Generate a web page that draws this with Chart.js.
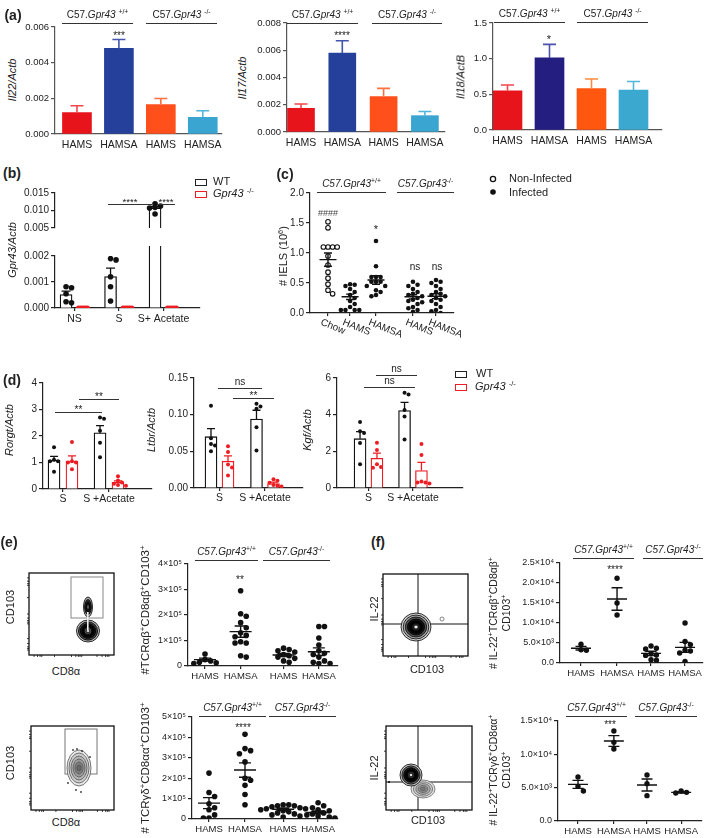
<!DOCTYPE html>
<html>
<head>
<meta charset="utf-8">
<title>Gpr43 IEL figure</title>
<script src="https://cdn.jsdelivr.net/npm/chart.js@4.4.1/dist/chart.umd.min.js"></script>
<style>
  html, body { margin: 0; padding: 0; background: #fff; }
  body { position: relative; width: 709px; height: 838px; overflow: hidden; font-family: "Liberation Sans", Arial, sans-serif; color: #222; }
  .t { position: absolute; white-space: nowrap; line-height: 1.2; }
  .hl { position: absolute; height: 0; border-top: 1.2px solid #333; }
  .sq { position: absolute; width: 10px; height: 5px; border: 1.6px solid #222; }
  sup { font-size: 68%; line-height: 0; vertical-align: 0; position: relative; top: -0.55em; }
</style>
</head>
<body>
<script>
// ---------- data ----------

// (a) colon qPCR, bars = mean, error = SEM
const aCats = ['HAMS', 'HAMSA', 'HAMS', 'HAMSA'];
const il22Mean = [0.0012, 0.0048, 0.00165, 0.00094];
const il22Sem = [0.00038, 0.0005, 0.00034, 0.00036];
const il17Mean = [0.00174, 0.0058, 0.0026, 0.0012];
const il17Sem = [0.00032, 0.0009, 0.0006, 0.0003];
const il18Mean = [0.55, 1.01, 0.58, 0.56];
const il18Sem = [0.08, 0.19, 0.135, 0.12];

// (b) Gpr43 expression
const bCats = ['NS', 'S', 'S+ Acetate'];
const bWtMean = [0.00052, 0.00121, 0.0107];
const bWtSem = [0.00013, 0.00032, 0.0005];
const bWtDots = [
  [0.00082, 0.00078, 0.00055, 0.00024, 0.0002],
  [0.0019, 0.00185, 0.0012, 0.00082, 0.00027],
  [0.0119, 0.0113, 0.0109, 0.0107, 0.009]
];
const bKoDots = [[0, 0, 0, 0, 0], [0, 0, 0, 0, 0], [0, 0, 0, 0, 0]];

// (c) IEL numbers
const cCats = ['Chow', 'HAMS', 'HAMSA', 'HAMS', 'HAMSA'];
const cInfected = [false, true, true, true, true];
const cDots = [
  [1.52, 1.42, 1.1, 1.1, 1.1, 1.1, 0.95, 0.8, 0.68, 0.58, 0.48, 0.38, 0.32],
  [0.48, 0.47, 0.45, 0.4, 0.35, 0.3, 0.25, 0.2, 0.15, 0.1, 0.05, 0.05, 0.05, 0.05],
  [1.2, 0.78, 0.6, 0.6, 0.6, 0.52, 0.52, 0.52, 0.45, 0.45, 0.38, 0.35, 0.3, 0.28],
  [0.52, 0.47, 0.45, 0.4, 0.35, 0.32, 0.3, 0.28, 0.25, 0.22, 0.2, 0.18, 0.15, 0.1, 0.08, 0.05, 0.02],
  [0.55, 0.52, 0.5, 0.45, 0.4, 0.35, 0.32, 0.3, 0.28, 0.25, 0.22, 0.2, 0.15, 0.1, 0.05, 0.03, 0.0]
];
const cMean = [0.89, 0.27, 0.55, 0.27, 0.28];
const cSem = [0.11, 0.045, 0.07, 0.035, 0.04];

// (d) sorted ILC3 qPCR
const dCats = ['S', 'S +Acetate'];
const rorgtWtMean = [1.08, 2.12], rorgtWtSem = [0.15, 0.27];
const rorgtWtDots = [[1.58, 1.1, 1.05, 1.05, 0.65], [2.7, 2.65, 2.2, 1.75, 1.2]];
const rorgtKoMean = [1.05, 0.25], rorgtKoSem = [0.2, 0.06];
const rorgtKoDots = [[1.77, 1.05, 1.0, 1.0, 0.75], [0.48, 0.32, 0.25, 0.2, 0.15, 0.12]];
const ltbrWtMean = [0.07, 0.094], ltbrWtSem = [0.011, 0.012];
const ltbrWtDots = [[0.112, 0.068, 0.06, 0.058, 0.05], [0.115, 0.111, 0.108, 0.083, 0.051]];
const ltbrKoMean = [0.0366, 0.006], ltbrKoSem = [0.0072, 0.002];
const ltbrKoDots = [[0.057, 0.049, 0.032, 0.028, 0.017], [0.012, 0.01, 0.007, 0.004, 0.003, 0.002]];
const kgfWtMean = [2.69, 4.22], kgfWtSem = [0.38, 0.45];
const kgfWtDots = [[3.6, 3.1, 3.0, 2.45, 1.3], [5.2, 5.1, 4.25, 3.9, 2.65]];
const kgfKoMean = [1.62, 0.95], kgfKoSem = [0.28, 0.45];
const kgfKoDots = [[2.47, 2.07, 1.3, 1.15, 1.1], [2.4, 1.8, 0.35, 0.3, 0.3, 0.25]];

// (e) IEL subsets
const eCats = ['HAMS', 'HAMSA', 'HAMS', 'HAMSA'];
const abDots = [
  [47000, 25000, 20000, 15000, 13000, 10000],
  [295000, 205000, 195000, 170000, 150000, 130000, 120000, 115000, 95000, 90000, 90000, 40000, 35000],
  [70000, 65000, 60000, 55000, 45000, 40000, 35000, 30000, 20000, 15000],
  [155000, 155000, 110000, 82000, 60000, 50000, 45000, 35000, 20000, 15000, 10000, 10000]
];
const abMean = [25000, 135000, 43000, 56000];
const abSem = [6000, 22000, 6000, 15000];
const gdDots = [
  [225000, 130000, 110000, 75000, 55000, 45000, 20000, 5000, 5000],
  [415000, 345000, 335000, 320000, 280000, 200000, 190000, 165000, 120000, 70000],
  [70000, 70000, 65000, 65000, 60000, 55000, 50000, 50000, 45000, 40000, 35000, 30000, 25000, 20000, 15000, 10000],
  [80000, 65000, 55000, 45000, 40000, 30000, 25000, 20000, 15000, 10000, 5000]
];
const gdMean = [78000, 240000, 48000, 32000];
const gdSem = [27000, 35000, 6000, 7000];

// (f) IL-22+ IEL subsets
const fCats = ['HAMS', 'HAMSA', 'HAMS', 'HAMSA'];
const il22abDots = [[4700, 3300, 3200], [21200, 15000, 12000], [4250, 3700, 3500, 2300, 2000, 1900, 800, 700], [10000, 5400, 4600, 3200, 3000, 2500, 400]];
const il22abMean = [3700, 16000, 2400, 3900];
const il22abSem = [450, 2800, 550, 1250];
const il22gdDots = [[6600, 5200, 4500], [13500, 11800, 10800], [6900, 5600, 3800], [4500, 4300, 4200]];
const il22gdMean = [5500, 12000, 5400, 4300];
const il22gdSem = [600, 800, 900, 100];

// ---------- helpers ----------
const RED = '#ee1d23';
Chart.defaults.font.family = '"Liberation Sans", Arial, sans-serif';
Chart.defaults.font.size = 10;
Chart.defaults.color = '#222';

// mean/SEM lines and bar error whiskers, drawn through the chart scales
Chart.register({
  id: 'summary',
  afterDatasetsDraw(chart) {
    const items = chart.canvas._items;
    if (!items) return;
    const { ctx, chartArea: a } = chart, x = chart.scales.x, y = chart.scales.y;
    ctx.save();
    ctx.beginPath();
    ctx.rect(a.left - 4, a.top - 4, a.right - a.left + 8, a.bottom - a.top + 8);
    ctx.clip();
    items.forEach(it => {
      const px = x.getPixelForValue(it.x), pm = y.getPixelForValue(it.mean);
      const hi = y.getPixelForValue(it.mean + it.sem), lo = y.getPixelForValue(it.mean - it.sem);
      ctx.strokeStyle = it.color;
      ctx.lineWidth = it.lw || 1.3;
      ctx.beginPath();
      ctx.moveTo(px, it.mode === 'up' ? pm : lo); ctx.lineTo(px, hi);
      ctx.moveTo(px - it.cap / 2, hi); ctx.lineTo(px + it.cap / 2, hi);
      if (it.mode !== 'up') {
        ctx.moveTo(px - it.cap / 2, lo); ctx.lineTo(px + it.cap / 2, lo);
        ctx.moveTo(px - it.w / 2, pm); ctx.lineTo(px + it.w / 2, pm);
      }
      ctx.stroke();
    });
    ctx.restore();
  }
});

// slanted category labels (clockwise, as in panel c)
Chart.register({
  id: 'slant',
  afterDraw(chart) {
    const s = chart.canvas._slant;
    if (!s) return;
    const { ctx } = chart, x = chart.scales.x;
    ctx.save();
    ctx.fillStyle = '#222';
    ctx.font = '10px "Liberation Sans", Arial, sans-serif';
    ctx.textBaseline = 'middle';
    ctx.textAlign = 'left';
    s.cats.forEach((c, i) => {
      ctx.save();
      ctx.translate(x.getPixelForValue(s.slots[i]) - 7, x.top + 9);
      ctx.rotate(22 * Math.PI / 180);
      ctx.fillText(c, 0, 0);
      ctx.restore();
    });
    ctx.restore();
  }
});

// L: chart-area box in page px, x0/u map category units to px
function mk(L, datasets, items) {
  const yW = L.yW ?? 34, xH = L.xH ?? 18, pT = L.pT ?? 8, pR = L.pR ?? 5, pB = L.pB ?? 0;
  const w = Math.round(L.r - L.l + yW + pR), h = Math.round(L.b - L.t + pT + (L.noX ? pB : xH));
  const cv = document.createElement('canvas');
  cv.width = w; cv.height = h;
  cv.style.cssText = `position:absolute;left:${L.l - yW}px;top:${L.t - pT}px;width:${w}px;height:${h}px`;
  document.body.appendChild(cv);
  cv._items = items;
  cv._slant = L.slant ? { cats: L.cats, slots: L.slots } : null;
  const axisCol = L.axisCol || '#222';
  return new Chart(cv, {
    type: 'scatter',
    data: { datasets },
    options: {
      responsive: false,
      animation: false,
      events: [],
      layout: { padding: { top: pT, right: pR, left: 0, bottom: L.noX ? pB : 0 }, autoPadding: false },
      plugins: { legend: { display: false }, tooltip: { enabled: false } },
      scales: {
        x: {
          type: 'linear', display: !L.noX, bounds: 'data', offset: false,
          min: (L.l - L.x0) / L.u, max: (L.r - L.x0) / L.u,
          afterBuildTicks: s => { s.ticks = L.slots.map(v => ({ value: v })); },
          afterFit: s => { s.height = xH; },
          grid: { display: true, offset: false, drawOnChartArea: false, drawTicks: !!L.xTicks, tickLength: 3, color: axisCol, lineWidth: 1.2 },
          border: { color: axisCol, width: 1.2 },
          ticks: { display: !L.slant, autoSkip: false, maxRotation: 0, padding: L.xPad ?? 2, callback: (v, i) => L.cats[i], font: { size: L.xFont || 10 } }
        },
        y: {
          type: 'linear', bounds: 'data', min: L.ymin, max: L.ymax, offset: false,
          afterFit: s => { s.width = yW; },
          grid: { display: true, offset: false, drawOnChartArea: false, tickLength: 4, color: axisCol, lineWidth: 1.2 },
          border: { color: axisCol, width: 1.2 },
          ticks: { stepSize: L.step, padding: 2, callback: L.fmt, font: { size: L.yFont || 10 } }
        }
      }
    }
  });
}

function tolFor(L, px) { return px * (L.ymax - L.ymin) / (L.b - L.t); }

// simple beeswarm: spread dots sideways when they would overlap
function swarm(vals, cx, tolY, dx) {
  const out = [];
  vals.slice().sort((a, b) => b - a).forEach(v => {
    const near = out.filter(p => Math.abs(p.y - v) < tolY);
    let k = 0, off = 0;
    while (true) {
      off = k === 0 ? 0 : (k % 2 ? 1 : -1) * Math.ceil(k / 2) * dx;
      if (!near.some(p => Math.abs(p.x - (cx + off)) < dx * 0.8)) break;
      k++;
    }
    out.push({ x: cx + off, y: v });
  });
  return out;
}

function dotSet(pts, color, r, open) {
  return {
    type: 'scatter', data: pts, pointRadius: r, pointHoverRadius: r,
    pointBackgroundColor: open ? '#fff' : color, pointBorderColor: color,
    pointBorderWidth: open ? 1.1 : 0
  };
}

function barSet(vals, xs, fill, border, bw, bwidth, clip) {
  const ds = {
    type: 'bar', data: vals.map((v, i) => ({ x: xs[i], y: v })),
    backgroundColor: fill, borderColor: border, borderWidth: bwidth, barThickness: bw, grouped: false
  };
  if (clip) ds.clip = clip;
  return ds;
}

function barChart(L, mean, sem, fill, err) {
  const ds = [barSet(mean, L.slots, fill, fill, L.bw, 0)];
  const items = mean.map((m, i) => ({ x: L.slots[i], mean: m, sem: sem[i], color: err[i], mode: 'up', cap: 13, lw: 1.6 }));
  mk(L, ds, items);
}

function pairChart(L, wM, wS, wD, kM, kS, kD) {
  const off = L.off, dx = 4 / L.u, tol = tolFor(L, 3.8), r = 2;
  const sets = [];
  wD.forEach((g, i) => sets.push(dotSet(swarm(g, L.slots[i] - off, tol, dx), '#111', r)));
  kD.forEach((g, i) => sets.push(dotSet(swarm(g, L.slots[i] + off, tol, dx), RED, r)));
  sets.push(barSet(wM, L.slots.map(s => s - off), '#fff', '#111', L.bw, 1.3));
  sets.push(barSet(kM, L.slots.map(s => s + off), '#fff', RED, L.bw, 1.3));
  const items = wM.map((m, i) => ({ x: L.slots[i] - off, mean: m, sem: wS[i], color: '#111', mode: 'up', cap: 8 }))
    .concat(kM.map((m, i) => ({ x: L.slots[i] + off, mean: m, sem: kS[i], color: RED, mode: 'up', cap: 8 })));
  mk(L, sets, items);
}

function dotChart(L, groups, mean, sem, open) {
  const dx = L.dot * 2 / L.u, tol = tolFor(L, L.dot * 1.9);
  const sets = groups.map((g, i) => dotSet(swarm(g, L.slots[i], tol, dx), '#111', L.dot, open && open[i]));
  const items = mean.map((m, i) => ({ x: L.slots[i], mean: m, sem: sem[i], color: '#111', cap: L.cap, w: L.mw, lw: 1.4 }));
  mk(L, sets, items);
}

// ---------- overlay text ----------
function T(x, y, html, st = {}) {
  const d = document.createElement('div');
  d.className = 't';
  d.innerHTML = html;
  d.style.left = x + 'px';
  d.style.top = y + 'px';
  d.style.fontSize = (st.size || 10) + 'px';
  if (st.bold) d.style.fontWeight = 'bold';
  if (st.it) d.style.fontStyle = 'italic';
  if (st.color) d.style.color = st.color;
  if (st.center) d.style.textAlign = 'center';
  d.style.transform = `translate(${st.ax ?? -50}%, -50%)` + (st.rot ? ` rotate(${st.rot}deg)` : '');
  document.body.appendChild(d);
}
// asterisks sit high in the em box, so their box is pushed down a little
function star(x, y, txt, size) { T(x, y + 2.5, txt, { size: size || 10 }); }
function H(x1, x2, y) {
  const d = document.createElement('div');
  d.className = 'hl';
  d.style.left = x1 + 'px'; d.style.top = y + 'px'; d.style.width = (x2 - x1) + 'px';
  document.body.appendChild(d);
}
function sig(x1, x2, y, txt, size) {
  H(x1, x2, y);
  if (txt.includes('*')) star((x1 + x2) / 2, y - 5, txt, size);
  else T((x1 + x2) / 2, y - 6, txt, { size: size || 10 });
}
function SQ(x, y, col) {
  const d = document.createElement('div');
  d.className = 'sq';
  d.style.left = x + 'px'; d.style.top = y + 'px'; d.style.borderColor = col;
  document.body.appendChild(d);
}
const WT = 'C57.<i>Gpr43</i> <sup>+/+</sup>', KO = 'C57.<i>Gpr43</i> <sup>-/-</sup>';
const WTi = '<i>C57.Gpr43</i><sup>+/+</sup>', KOi = '<i>C57.Gpr43</i><sup>-/-</sup>';
function grp(x1, x2, y, html, size) { H(x1, x2, y); T((x1 + x2) / 2, y - 8, html, { size: size || 10 }); }

// ---------- (a) ----------
const LA1 = { l: 55, t: 27, r: 222, b: 134, x0: 77, u: 42, slots: [0, 1, 2, 3], cats: aCats, bw: 29,
  ymin: 0, ymax: 0.006, step: 0.002, fmt: v => v.toFixed(3), axisCol: '#555', xPad: 5, xFont: 10.5, yFont: 9.5 };
const LA2 = { ...LA1, l: 287, t: 23, r: 445, b: 132, x0: 301, u: 41.3, bw: 27, ymax: 0.008 };
const LA3 = { ...LA1, l: 493, t: 23, r: 662, b: 130, x0: 507.5, u: 42, bw: 29, ymax: 1.5, step: 0.5, fmt: v => v.toFixed(1) };
barChart(LA1, il22Mean, il22Sem, ['#e8141b', '#24409a', '#ff4f1a', '#3aa5d1'], ['#f0474c', '#4155ad', '#ff7040', '#52b6dc']);
barChart(LA2, il17Mean, il17Sem, ['#e8141b', '#24409a', '#ff4f1a', '#3aa5d1'], ['#f0474c', '#4155ad', '#ff7040', '#52b6dc']);
barChart(LA3, il18Mean, il18Sem, ['#e8141b', '#231e80', '#ff5610', '#3aa8cf'], ['#f0474c', '#4a52b0', '#ff8a40', '#52b6dc']);

T(13, 15, '(a)', { size: 14, bold: true });
grp(62, 133, 23, WT); grp(146, 217, 23, KO);
grp(287, 358, 23, WT); grp(372, 442, 23, KO);
grp(494, 565, 22, WT); grp(577, 648, 22, KO);
star(119, 33, '***'); star(342, 33, '****'); star(549, 37, '*', 11);
T(13, 80, 'Il22/Actb', { size: 11, it: true, rot: -90 });
T(243, 78, 'Il17/Actb', { size: 11, it: true, rot: -90 });
T(461, 77, 'Il18/ActB', { size: 11, it: true, rot: -90 });

// ---------- (b) broken axis: two stacked charts ----------
const LBlo = { l: 55, t: 256, r: 200, b: 308, x0: 74.5, u: 44.5, slots: [0, 1, 2], cats: bCats,
  ymin: 0, ymax: 0.002, step: 0.001, fmt: v => v.toFixed(3), xTicks: true, pT: 10, xPad: 2, xFont: 10.5, off: 0.19 };
const LBhi = { ...LBlo, t: 193, b: 246, ymin: 0.005, ymax: 0.015, step: 0.005, noX: true, pB: 6 };
function bSets(L, clip) {
  const dx = 5.5 / L.u, tol = tolFor(L, 5);
  const sets = [];
  bWtDots.forEach((g, i) => sets.push(dotSet(swarm(g, L.slots[i] - L.off, tol, dx), '#111', 2.8)));
  bKoDots.forEach((g, i) => sets.push(dotSet(swarm(g, L.slots[i] + L.off, tol, 2.2 / L.u), RED, 2.6)));
  sets.push(barSet(bWtMean, L.slots.map(s => s - L.off), '#fff', '#111', 12, 1.3, clip));
  return sets;
}
const bItems = L => bWtMean.map((m, i) => ({ x: L.slots[i] - L.off, mean: m, sem: bWtSem[i], color: '#111', mode: 'up', cap: 9 }));
mk(LBhi, bSets(LBhi, null), bItems(LBhi));
mk(LBlo, bSets(LBlo, { left: 2, top: 10, right: 2, bottom: 2 }), bItems(LBlo));
T(12, 173, '(b)', { size: 14, bold: true });
T(13, 250, 'Gpr43/Actb', { size: 11, it: true, rot: -90 });
sig(108, 152, 204, '****', 9.5); sig(157, 175, 204, '****', 9.5);
SQ(195, 179, '#222'); SQ(195, 191, RED);
T(213, 182, 'WT', { size: 11, ax: 0 });
T(213, 194, '<i>Gpr43</i> <sup>-/-</sup>', { size: 11, ax: 0 });

// ---------- (c) ----------
const LC = { l: 310, t: 193, r: 454, b: 313, x0: 328, u: 24, slots: [0, 0.92, 2, 3.54, 4.5], cats: cCats,
  ymin: 0, ymax: 2, step: 0.5, fmt: v => v.toFixed(1), xTicks: true, slant: true, xH: 32, pR: 18,
  dot: 2.3, cap: 8, mw: 17 };
dotChart(LC, cDots, cMean, cSem, cInfected.map(v => !v));
T(285, 174, '(c)', { size: 14, bold: true });
grp(317, 386, 192, WTi); grp(397, 454, 192, KOi);
T(328, 213, '####', { size: 9, color: '#444' });
star(376, 227, '*', 11);
T(415, 267, 'ns'); T(437, 267, 'ns');
T(284, 256, '# IELS (10<sup>6</sup>)', { size: 11, rot: -90 });
const leg = document.createElement('canvas');
leg.width = 14; leg.height = 26;
leg.style.cssText = 'position:absolute;left:486px;top:172px';
document.body.appendChild(leg);
{
  const g = leg.getContext('2d');
  g.lineWidth = 1.3; g.strokeStyle = '#111'; g.fillStyle = '#111';
  g.beginPath(); g.arc(7, 7, 2.6, 0, Math.PI * 2); g.stroke();
  g.beginPath(); g.arc(7, 20, 2.8, 0, Math.PI * 2); g.fill();
}
T(509, 179, 'Non-Infected', { size: 11, ax: 0 });
T(509, 193, 'Infected', { size: 11, ax: 0 });

// ---------- (d) ----------
const LD1 = { l: 43, t: 383, r: 152, b: 489, x0: 63, u: 46, slots: [0, 1], cats: dCats, off: 0.195, bw: 12,
  ymin: 0, ymax: 4, step: 1, fmt: v => String(v), xTicks: true, yW: 24, xPad: 1, xFont: 10.5 };
const LD2 = { ...LD1, l: 194, t: 378, r: 303, b: 487.5, x0: 219.5, u: 45.5, off: 0.187, ymax: 0.15, step: 0.05, fmt: v => v.toFixed(2), yW: 34 };
const LD3 = { ...LD1, l: 337, t: 378, r: 463, b: 488, x0: 368.5, u: 44.5, off: 0.19, ymax: 6, step: 2 };
pairChart(LD1, rorgtWtMean, rorgtWtSem, rorgtWtDots, rorgtKoMean, rorgtKoSem, rorgtKoDots);
pairChart(LD2, ltbrWtMean, ltbrWtSem, ltbrWtDots, ltbrKoMean, ltbrKoSem, ltbrKoDots);
pairChart(LD3, kgfWtMean, kgfWtSem, kgfWtDots, kgfKoMean, kgfKoSem, kgfKoDots);
T(12, 380, '(d)', { size: 14, bold: true });
T(10, 430, 'Rorgt/Actb', { size: 11, it: true, rot: -90 });
T(152, 430, 'Ltbr/Actb', { size: 11, it: true, rot: -90 });
T(308, 430, 'Kgf/Actb', { size: 11, it: true, rot: -90 });
sig(55, 102, 412, '**'); sig(79, 119, 399, '**');
sig(218, 262, 388, 'ns'); sig(233, 274, 398, '**');
sig(376, 417, 375, 'ns'); sig(364, 415, 387, 'ns');
SQ(455, 371, '#222'); SQ(455, 384, RED);
T(476, 374, 'WT', { size: 11, ax: 0 });
T(475, 387, '<i>Gpr43</i> <sup>-/-</sup>', { size: 11, ax: 0 });

// ---------- (e) / (f) dot plots ----------
const sci5 = v => v === 0 ? '0' : `${v / 1e5}×10⁵`;
const sciF = v => v === 0 ? '0.0' : v < 1e4 ? `${(v / 1e3).toFixed(1)}×10³` : `${(v / 1e4).toFixed(1)}×10⁴`;
const LE1 = { l: 188, t: 564, r: 338, b: 666, x0: 205, u: 33, slots: [0, 1.08, 2.38, 3.45], cats: eCats,
  ymin: 0, ymax: 4e5, step: 1e5, fmt: sci5, xTicks: true, yW: 40, yFont: 9, xPad: 2, xFont: 9.5,
  dot: 2.8, cap: 12, mw: 22, pR: 10 };
const LE2 = { ...LE1, l: 192, t: 717, r: 338, b: 819, x0: 209, u: 36, slots: [0, 1, 2.06, 3.03], ymax: 5e5 };
const LF1 = { ...LE1, l: 560, t: 563, r: 703, b: 663, x0: 581, u: 34, slots: [0, 1.06, 2.06, 3.06], cats: fCats,
  ymax: 2.5e4, step: 5e3, fmt: sciF, yW: 46, dot: 2.7, cap: 11, mw: 20 };
const LF2 = { ...LF1, l: 558, t: 721, r: 702, b: 821, x0: 578, u: 34.5, slots: [0, 1.04, 2, 2.99], ymax: 1.5e4 };
dotChart(LE1, abDots, abMean, abSem);
dotChart(LE2, gdDots, gdMean, gdSem);
dotChart(LF1, il22abDots, il22abMean, il22abSem);
dotChart(LF2, il22gdDots, il22gdMean, il22gdSem);

T(9, 542, '(e)', { size: 14, bold: true });
T(378, 542, '(f)', { size: 14, bold: true });
grp(195, 258, 560, WTi); grp(263, 330, 560, KOi);
grp(199, 266, 716, WTi); grp(269, 336, 716, KOi);
grp(573, 634, 558, WTi); grp(643, 703, 558, KOi);
grp(566, 627, 716, WTi); grp(635, 697, 716, KOi);
star(240, 577, '**'); star(243, 725, '****'); star(615, 567, '****'); star(610, 722, '***');
T(146, 610, '#TCRαβ<sup>+</sup>CD8αβ<sup>+</sup>CD103<sup>+</sup>', { size: 11.5, rot: -90 });
T(146, 768, '# TCRγδ<sup>+</sup>CD8αα<sup>+</sup>CD103<sup>+</sup>', { size: 11.5, rot: -90 });
T(500, 613, '# IL-22<sup>+</sup>TCRαβ<sup>+</sup>CD8αβ<sup>+</sup><br>CD103<sup>+</sup>', { size: 10.5, rot: -90, center: true });
T(500, 770, '# IL-22<sup>+</sup>TCRγδ<sup>+</sup>CD8αα<sup>+</sup><br>CD103<sup>+</sup>', { size: 10.5, rot: -90, center: true });

// ---------- flow cytometry plots (pictures, not data) ----------
function flowBox(l, t, r, b) {
  const pad = 6, cv = document.createElement('canvas');
  cv.width = r - l + 2 * pad; cv.height = b - t + 2 * pad;
  cv.style.cssText = `position:absolute;left:${l - pad}px;top:${t - pad}px`;
  document.body.appendChild(cv);
  const g = cv.getContext('2d');
  g.translate(pad - l, pad - t);
  g.strokeStyle = '#111'; g.lineWidth = 1.3;
  g.strokeRect(l, t, r - l, b - t);
  g.lineWidth = 0.8;
  const fr = [0.06, 0.1, 0.13, 0.15, 0.3, 0.5, 0.55, 0.58, 0.6, 0.62, 0.8, 0.86, 0.9, 0.92, 0.94];
  g.beginPath();
  fr.forEach(f => {
    g.moveTo(l, t + (b - t) * f); g.lineTo(l - 2, t + (b - t) * f);
    g.moveTo(l + (r - l) * f, b); g.lineTo(l + (r - l) * f, b + 2);
  });
  g.stroke();
  return g;
}
function rings(g, cx, cy, rx, ry, fills, stroke) {
  const n = fills.length;
  for (let k = 0; k < n; k++) {
    const f = 1 - k / n;
    g.beginPath();
    g.ellipse(cx, cy, rx * f, ry * f, 0, 0, Math.PI * 2);
    g.fillStyle = fills[k]; g.fill();
    g.strokeStyle = stroke; g.lineWidth = 0.8; g.stroke();
  }
}
{
  // e, top: CD8a vs CD103 with gate
  const g = flowBox(29, 573, 114, 655);
  g.strokeStyle = '#888'; g.lineWidth = 1; g.strokeRect(71, 577, 32, 41);
  rings(g, 88, 607, 4.5, 10, ['#aaa', '#333', '#111', '#888'], '#000');
  rings(g, 88, 631, 11.5, 11, ['#bbb', '#444', '#111', '#000', '#555', '#ccc'], '#000');
  g.fillStyle = '#eee'; g.fillRect(87, 612, 1.6, 18);
}
{
  const g = flowBox(31, 726, 114, 810);
  g.strokeStyle = '#777'; g.lineWidth = 1; g.strokeRect(65, 729, 32, 45);
  rings(g, 79, 768, 12, 18, ['#e6e6e6', '#cfcfcf', '#b5b5b5', '#9a9a9a', '#7d7d7d', '#666'], '#555');
  g.fillStyle = '#333';
  [[73, 750], [77, 749], [82, 751], [68, 783], [76, 790], [81, 792], [90, 757]].forEach(([x, y]) => { g.beginPath(); g.arc(x, y, 0.9, 0, Math.PI * 2); g.fill(); });
}
{
  const g = flowBox(383, 574, 468, 656);
  g.strokeStyle = '#111'; g.lineWidth = 1;
  g.beginPath(); g.moveTo(418, 574); g.lineTo(418, 656); g.moveTo(383, 624); g.lineTo(468, 624); g.stroke();
  rings(g, 416, 627, 15, 14, ['#d5d5d5', '#aaa', '#555', '#111', '#000', '#222', '#eee'], '#000');
  g.strokeStyle = '#666'; g.beginPath(); g.arc(442, 619, 2, 0, Math.PI * 2); g.stroke();
}
{
  const g = flowBox(386, 726, 472, 810);
  g.strokeStyle = '#111'; g.lineWidth = 1;
  g.beginPath(); g.moveTo(418, 726); g.lineTo(418, 810); g.moveTo(386, 782); g.lineTo(472, 782); g.stroke();
  rings(g, 423, 789, 12, 9, ['#e2e2e2', '#c8c8c8', '#aaa', '#888', '#777'], '#666');
  rings(g, 411, 775, 11, 11, ['#cfcfcf', '#666', '#111', '#000', '#333', '#ddd'], '#000');
  g.fillStyle = '#222'; g.fillRect(388, 781, 2, 2);
}
T(11, 607, 'CD103', { size: 11, rot: -90 });
T(66, 672, 'CD8α', { size: 11 });
T(11, 763, 'CD103', { size: 11, rot: -90 });
T(66, 823, 'CD8α', { size: 11 });
T(375, 609, 'IL-22', { size: 11, rot: -90 });
T(427, 670, 'CD103', { size: 11 });
T(375, 768, 'IL-22', { size: 11, rot: -90 });
T(428, 821, 'CD103', { size: 11 });
</script>
</body>
</html>
